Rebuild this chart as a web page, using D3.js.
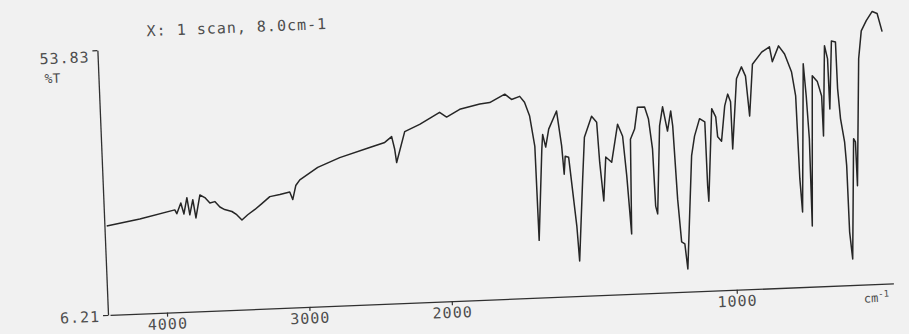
<!DOCTYPE html>
<html>
<head>
<meta charset="utf-8">
<script src="https://cdn.jsdelivr.net/npm/d3@7"></script>
<style>
  body { margin: 0; background: #f1f1f1; }
  figure { margin: 0; }
  svg { display: block; }
  text { font-family: "DejaVu Sans Mono", monospace; fill: #4d4d4d; }
</style>
</head>
<body>
<figure id="ir"></figure>
<script>
// IR spectrum (wavenumber in cm-1, %T)
const wavenumbers = [
  4398, 4164, 3916, 3903, 3872, 3853, 3828, 3812, 3787, 3770, 3736, 3702, 3668, 3633, 3599,
  3566, 3516, 3483, 3448, 3406, 3354, 3304, 3246, 3175, 3105, 3086, 3061, 3031, 2902, 2745,
  2532, 2425, 2375, 2357, 2347, 2282, 2175, 2032, 1992, 1945, 1874, 1839, 1785, 1762, 1733,
  1717, 1701, 1687, 1685, 1663, 1658, 1649, 1636, 1606, 1593, 1588, 1582, 1570, 1551, 1546,
  1524, 1512, 1484, 1467, 1462, 1453, 1440, 1420, 1394, 1378, 1369, 1360, 1351, 1335, 1322,
  1297, 1285, 1275, 1272, 1266, 1247, 1234, 1220, 1206, 1201, 1194, 1186, 1175, 1168, 1139,
  1126, 1106, 1088, 1087, 1085, 1062, 1049, 1045, 1032, 1016, 1004, 995, 994, 971, 952,
  939, 930, 913, 879, 851, 843, 819, 799, 777, 766, 763, 758, 735, 729, 724,
  726, 705, 688, 675, 674, 658, 649, 648, 633, 619, 618, 612, 601, 597, 596,
  589, 569, 563, 562, 540, 527, 508, 486, 469, 454
];
const transmittance = [
  22.2, 23.2, 24.6, 23.9, 25.8, 23.8, 26.7, 23.6, 26.3, 23.0, 27.1, 26.6, 25.6, 25.8, 24.8,
  24.3, 23.9, 23.3, 22.3, 23.2, 24.1, 25.1, 26.3, 26.6, 27.0, 25.6, 28.1, 29.1, 31.2, 32.8,
  34.4, 35.2, 36.2, 33.9, 31.5, 37.0, 38.2, 40.2, 39.3, 40.6, 41.4, 41.6, 43.0, 42.0, 42.5,
  41.4, 38.9, 33.4, 16.5, 32.8, 35.5, 33.2, 36.4, 39.6, 33.3, 28.2, 31.4, 31.2, 18.8, 12.5,
  27.2, 34.7, 38.4, 37.3, 30.1, 23.1, 31.0, 30.0, 36.8, 34.6, 27.4, 17.0, 34.0, 35.8, 39.7,
  39.7, 37.5, 32.1, 21.8, 20.4, 36.2, 39.6, 35.2, 38.8, 36.1, 22.9, 15.2, 14.8, 10.3, 30.6,
  34.1, 37.2, 36.6, 25.1, 22.3, 38.9, 37.4, 33.8, 33.0, 39.3, 41.4, 40.0, 31.5, 44.1, 46.2,
  44.5, 37.3, 46.6, 48.7, 49.6, 46.9, 49.7, 48.2, 44.9, 40.6, 25.7, 19.7, 46.3, 40.5, 32.8,
  17.1, 44.1, 43.0, 40.4, 33.2, 49.4, 47.0, 38.0, 50.2, 50.0, 41.6, 36.2, 32.0, 27.7, 15.8,
  10.9, 32.5, 31.9, 24.0, 46.8, 51.8, 53.6, 55.2, 54.8, 51.5
];
const xTickValues = [4000, 3000, 2000, 1000];
const yTickValues = [6.21, 53.83];
const yLabel = "%T";
const xUnit = "cm";
const title = "X: 1 scan, 8.0cm-1";

const width = 909, height = 334;

const svg = d3.select("figure#ir")
  .append("svg")
  .attr("width", width)
  .attr("height", height);

svg.append("rect")
  .attr("width", width)
  .attr("height", height)
  .attr("fill", "#f1f1f1");

// the paper sheet was scanned a little crooked, so the whole plot is tilted
const g = svg.append("g")
  .attr("transform", "translate(108,315) rotate(-2.3)");

// the spectrometer doubles the scale below 2000 cm-1
const x = d3.scaleLinear()
  .domain([4400, 2000, 450])
  .range([2, 344, 786]);

const y = d3.scaleLinear()
  .domain([6.21, 53.83])
  .range([0, -265]);

// X axis
const xAxis = g.append("g")
  .call(d3.axisBottom(x)
    .tickValues(xTickValues)
    .tickSize(4)
    .tickSizeOuter(0)
    .tickPadding(2)
    .tickFormat(d3.format("d")));

// Y axis, only the two end values
const yAxis = g.append("g")
  .call(d3.axisLeft(y)
    .tickValues(yTickValues)
    .tickSize(5)
    .tickSizeOuter(0)
    .tickPadding(3)
    .tickFormat(d3.format(".2f")));

[xAxis, yAxis].forEach(a => {
  a.select(".domain").attr("stroke", "#303030").attr("stroke-width", 1.3);
  a.selectAll(".tick line").attr("stroke", "#303030").attr("stroke-width", 1.2);
  a.selectAll("text")
    .style("font-size", "15px")
    .style("letter-spacing", "1px")
    .attr("fill", "#4d4d4d")
    .style("font-family", "'DejaVu Sans Mono', monospace");
});
yAxis.selectAll(".tick text")
  .attr("dy", d => d === 53.83 ? "0.75em" : "0.4em");

g.append("text")
  .attr("x", -46)
  .attr("y", -234)
  .attr("text-anchor", "middle")
  .style("font-size", "13px")
  .text(yLabel);

const unit = g.append("text")
  .attr("x", 756)
  .attr("y", 18)
  .style("font-size", "12px")
  .text(xUnit);
unit.append("tspan")
  .attr("dy", -5)
  .style("font-size", "9px")
  .text("-1");

g.append("text")
  .attr("x", 50)
  .attr("y", -277)
  .style("font-size", "15px")
  .style("letter-spacing", "1px")
  .text(title);

// the trace
const line = d3.line()
  .x(d => x(d[0]))
  .y(d => y(d[1]));

g.append("path")
  .datum(d3.zip(wavenumbers, transmittance))
  .attr("fill", "none")
  .attr("stroke", "#262626")
  .attr("stroke-width", 1.5)
  .attr("stroke-linejoin", "round")
  .attr("d", line);
</script>
</body>
</html>
